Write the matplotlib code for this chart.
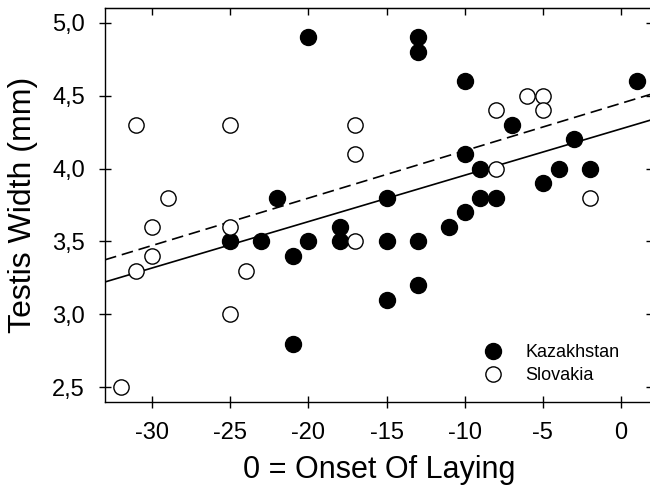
import matplotlib
matplotlib.use('Agg')
import matplotlib.pyplot as plt
import numpy as np

# Kazakhstan (filled circles)
kaz_x = [-20, -13, -13, -10, 1, -7, -3, -10, -9, -4, -2, -5, -22, -15, -9, -8,
         -10, -18, -11, -25, -23, -20, -18, -15, -13, -21, -13, -15, -21]
kaz_y = [4.9, 4.9, 4.8, 4.6, 4.6, 4.3, 4.2, 4.1, 4.0, 4.0, 4.0, 3.9, 3.8, 3.8, 3.8, 3.8,
         3.7, 3.6, 3.6, 3.5, 3.5, 3.5, 3.5, 3.5, 3.5, 3.4, 3.2, 3.1, 2.8]

# Slovakia (open circles)
svk_x = [-31, -25, -17, -17, -6, -5, -8, -5, -29, -8, -2, -30, -25, -17, -30, -31,
         -24, -25, -32]
svk_y = [4.3, 4.3, 4.3, 4.1, 4.5, 4.5, 4.4, 4.4, 3.8, 4.0, 3.8, 3.6, 3.6, 3.5, 3.4, 3.3,
         3.3, 3.0, 2.5]

# regression lines (slope, intercept)
fit_solid = (0.0318, 4.272)
fit_dashed = (0.0325, 4.447)

x_ticks = [-30, -25, -20, -15, -10, -5, 0]
x_tick_labels = ['-30', '-25', '-20', '-15', '-10', '-5', '0']
y_ticks = [2.5, 3.0, 3.5, 4.0, 4.5, 5.0]
y_tick_labels = ['2,5', '3,0', '3,5', '4,0', '4,5', '5,0']
x_label = '0 = Onset Of Laying'
y_label = 'Testis Width (mm)'
series_names = ['Kazakhstan', 'Slovakia']

plt.rcParams['font.family'] = ['Liberation Sans', 'DejaVu Sans']

fig = plt.figure(figsize=(6.5, 4.94), dpi=100)
ax = fig.add_axes([105 / 650, 92 / 494, 547.4 / 650, 394 / 494])
xlim = (-33, 2)
ylim = (2.4, 5.1)
ax.set_xlim(*xlim)
ax.set_ylim(*ylim)

xs = np.array(xlim, dtype=float)
ax.plot(xs, fit_solid[0] * xs + fit_solid[1], color='black', lw=1.2, zorder=2)
ax.plot(xs, fit_dashed[0] * xs + fit_dashed[1], color='black', lw=1.2,
        dashes=(7, 3.5), zorder=2)

ms = 11.5
h1, = ax.plot(kaz_x, kaz_y, 'o', ms=ms, mfc='black', mec='black', mew=1.0,
              ls='none', zorder=3, label=series_names[0])
h2, = ax.plot(svk_x, svk_y, 'o', ms=ms - 0.5, mfc='white', mec='black', mew=1.0,
              ls='none', zorder=4, label=series_names[1])

for s in ax.spines.values():
    s.set_linewidth(1.0)

ax.set_xticks(x_ticks)
ax.set_xticklabels(x_tick_labels)
ax.set_yticks(y_ticks)
ax.set_yticklabels(y_tick_labels)
ax.tick_params(direction='inout', length=9, width=1.0, labelsize=17, pad=10)

secx = ax.secondary_xaxis('top')
secx.set_xticks(x_ticks)
secx.tick_params(direction='in', length=5, width=1.0, labeltop=False)
secy = ax.secondary_yaxis('right')
secy.set_yticks(y_ticks)
secy.tick_params(direction='in', length=4, width=1.0, labelright=False)

ax.set_xlabel(x_label, fontsize=22, labelpad=8)
ax.set_ylabel(y_label, fontsize=23, labelpad=10)

ax.legend(handles=[h1, h2], loc='center left', bbox_to_anchor=(0.693, 0.096),
          frameon=False, fontsize=13, handlelength=1.0, handletextpad=1.27,
          borderpad=0, borderaxespad=0, labelspacing=0.3)

fig.savefig('out.png', dpi=100)
